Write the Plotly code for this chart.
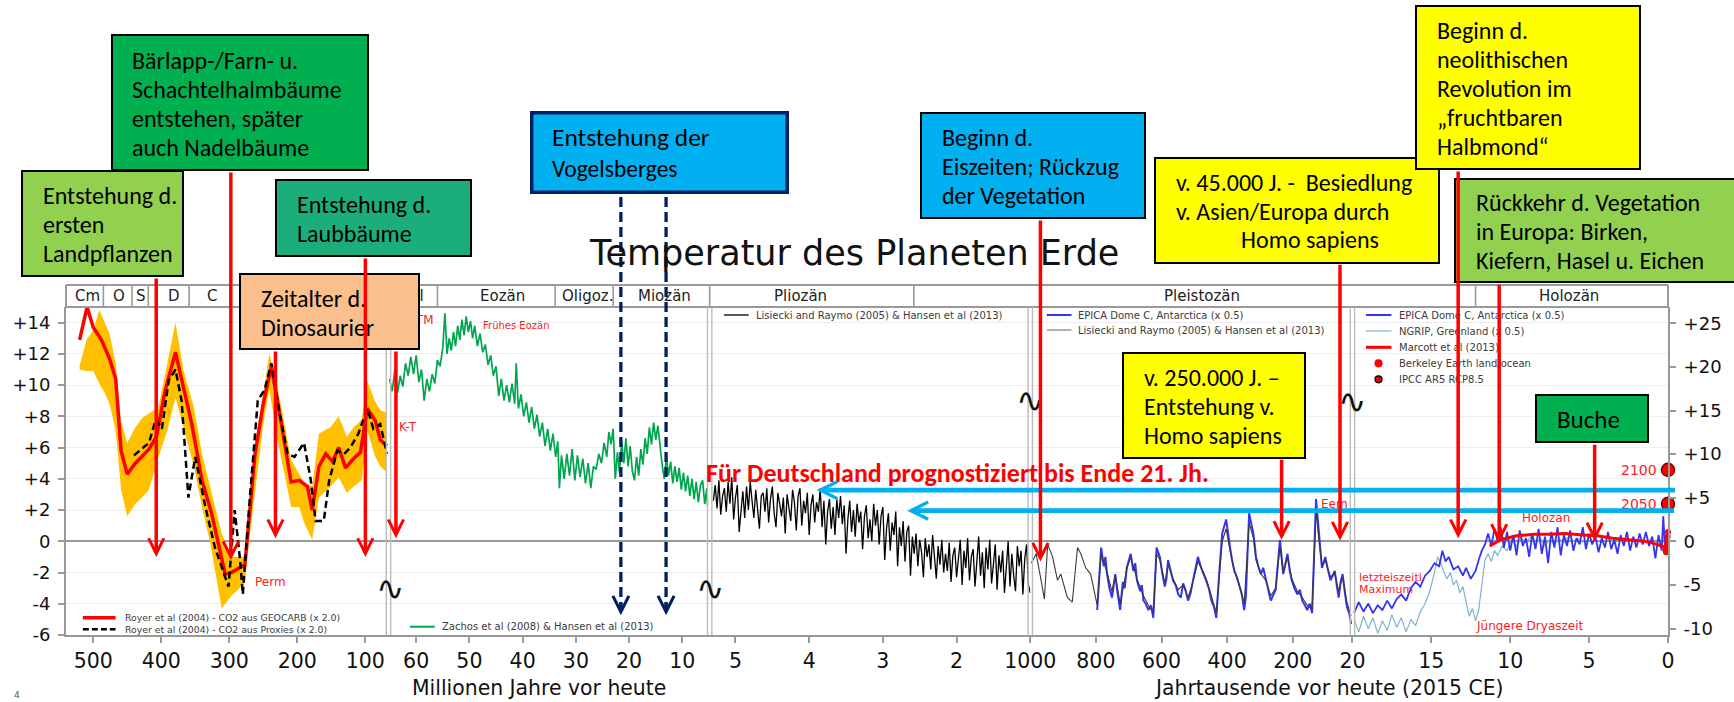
import plotly.graph_objects as go

# ---------------------------------------------------------------- data
# Segment 1: Millionen Jahre (Royer et al 2004)
royer_t = [520, 509, 500, 488, 476, 467, 459, 450, 438, 418, 407, 394, 379, 367, 355, 340, 326, 306, 297, 277,
           262, 250, 238, 224, 209, 197, 185, 178, 168, 158, 148, 139, 129, 117, 107, 97, 85, 78, 68]
royer_y = [12.9, 15.0, 13.7, 12.9, 11.7, 10.4, 5.8, 4.3, 5.0, 5.9, 6.7, 9.7, 12.1, 9.7, 7.5, 3.9, 1.8, -2.1, -2.0, -1.5,
           5.6, 8.8, 11.2, 7.7, 3.8, 3.9, 3.5, 2.0, 4.8, 5.6, 5.1, 6.0, 4.7, 5.3, 5.7, 8.5, 7.7, 6.5, 6.1]
band_t = [520, 510, 500, 491, 483, 476, 467, 459, 450, 438, 428, 418, 404, 391, 379, 367, 352, 340, 328, 311, 297,
          285, 277, 268, 259, 250, 241, 229, 209, 197, 190, 178, 168, 151, 139, 127, 117, 105, 97, 86, 78, 68]
band_hi = [11.2, 12.9, 13.5, 14.8, 14.0, 13.3, 11.4, 7.7, 6.3, 7.3, 7.9, 8.2, 8.6, 11.4, 14.0, 10.9, 8.6, 5.6, 3.5, 0.5, -1.0,
           -1.0, -1.0, 3.0, 7.0, 9.5, 12.0, 9.9, 5.2, 4.3, 3.8, 3.5, 6.9, 7.3, 8.0, 6.7, 7.3, 7.8, 10.3, 9.0, 8.4, 8.2]
band_lo = [11.0, 10.9, 10.9, 10.1, 9.5, 8.8, 7.1, 3.3, 1.6, 2.4, 2.8, 3.3, 5.4, 7.1, 9.2, 7.3, 4.8, 2.2, -0.1, -4.3, -3.5,
           -3.0, -2.6, 1.0, 4.2, 7.5, 9.7, 6.5, 2.2, 2.2, 1.2, 0.1, 2.8, 3.5, 4.1, 3.1, 3.5, 3.9, 7.1, 5.5, 4.8, 4.4]
prox_t = [440, 418, 408, 399, 389, 379, 370, 360, 350, 335, 321, 301, 292, 284, 280, 270, 258, 248, 238, 226, 214,
          204, 190, 180, 173, 161, 153, 141, 131, 122, 110, 97, 88, 78, 68]
prox_y = [5.5, 6.3, 7.8, 7.2, 10.3, 11.0, 9.0, 2.8, 5.4, 2.2, -0.4, -2.9, 2.0, -1.2, -3.4, 2.6, 9.0, 9.7, 11.4, 8.2, 5.6,
          5.4, 6.3, 3.9, 1.3, 1.3, 3.9, 5.8, 5.6, 6.0, 6.9, 8.5, 7.2, 7.5, 5.6]

# Segment 2: Millionen Jahre (Zachos et al 2008)
zachos_t = [65.0, 64.5, 64.0, 63.5, 63.0, 62.5, 62.0, 61.5, 61.0, 60.5,
            60.0, 59.5, 59.0, 58.5, 58.0, 57.5, 57.0, 56.5, 56.0, 55.5,
            55.0, 54.6, 54.2, 53.8, 53.4, 53.0, 52.6, 52.2, 51.8, 51.4,
            51.0, 50.6, 50.2, 49.8, 49.4, 49.0, 48.5, 48.0, 47.5, 47.0,
            46.5, 46.0, 45.5, 45.0, 44.5, 44.0, 43.5, 43.0, 42.5, 42.0,
            41.5, 41.2, 40.8, 40.3, 39.8, 39.3, 38.8, 38.3, 37.8, 37.3,
            36.8, 36.3, 35.8, 35.3, 34.8, 34.3, 33.8, 33.4, 33.1, 32.7,
            32.2, 31.7, 31.2, 30.7, 30.2, 29.7, 29.2, 28.7, 28.2, 27.7,
            27.2, 26.7, 26.2, 25.7, 25.2, 24.7, 24.2, 23.8, 23.4, 23.0,
            22.6, 22.2, 21.8, 21.4, 21.0, 20.6, 20.2, 19.8, 19.4, 19.0,
            18.6, 18.2, 17.8, 17.4, 17.0, 16.6, 16.2, 15.8, 15.4, 15.0,
            14.6, 14.2, 13.8, 13.4, 13.0, 12.6, 12.2, 11.8, 11.4, 11.0,
            10.6, 10.2, 9.8, 9.4, 9.0, 8.6, 8.2, 7.8, 7.4, 7.0,
            6.6, 6.2, 5.8, 5.4, 5.3]
zachos_y = [10.4, 9.6, 11.0, 9.5, 10.6, 9.9, 11.4, 10.6, 11.8, 10.7,
            11.9, 10.2, 11.0, 9.0, 10.4, 9.6, 10.7, 10.1, 11.6, 11.2,
            12.4, 14.6, 12.0, 13.0, 12.2, 13.4, 12.5, 13.8, 12.9, 14.2,
            13.2, 14.4, 13.4, 14.1, 13.0, 13.8, 12.5, 13.3, 12.1, 12.6,
            11.3, 11.9, 10.6, 11.2, 9.3, 10.4, 9.0, 10.0, 8.9, 10.1,
            8.8, 11.4, 8.5, 9.4, 8.0, 8.9, 7.6, 8.6, 7.2, 8.1,
            6.7, 7.6, 6.1, 7.2, 5.8, 6.9, 5.4, 6.4, 3.4, 5.5,
            4.0, 5.6, 4.2, 5.9, 3.9, 5.5, 4.1, 5.3, 3.7, 5.0,
            3.4, 4.8, 4.6, 5.6, 5.0, 6.3, 5.4, 7.0, 6.2, 7.2,
            4.0, 5.7, 4.4, 6.4, 5.0, 6.6, 4.8, 6.1, 4.5, 3.9,
            5.4, 4.2, 5.9, 4.9, 6.6, 5.6, 7.3, 6.2, 7.6, 6.5,
            7.4, 6.0, 4.9, 4.0, 5.4, 4.2, 5.1, 3.7, 4.8, 3.8,
            4.7, 3.3, 4.4, 3.2, 4.2, 2.9, 4.0, 2.7, 3.8, 2.5,
            3.6, 3.9, 2.4, 3.4, 2.3]

# Segment 3: Millionen Jahre (Lisiecki & Raymo 2005)
lr3_t = [5.300, 5.275, 5.250, 5.225, 5.200, 5.175, 5.150, 5.125, 5.100, 5.075,
         5.050, 5.025, 5.000, 4.975, 4.950, 4.925, 4.900, 4.875, 4.850, 4.825,
         4.800, 4.775, 4.750, 4.725, 4.700, 4.675, 4.650, 4.625, 4.600, 4.575,
         4.550, 4.525, 4.500, 4.475, 4.450, 4.425, 4.400, 4.375, 4.350, 4.325,
         4.300, 4.275, 4.250, 4.225, 4.200, 4.175, 4.150, 4.125, 4.100, 4.075,
         4.050, 4.025, 4.000, 3.975, 3.950, 3.925, 3.900, 3.875, 3.850, 3.825,
         3.800, 3.775, 3.750, 3.725, 3.700, 3.675, 3.650, 3.625, 3.600, 3.575,
         3.550, 3.525, 3.500, 3.475, 3.450, 3.425, 3.400, 3.375, 3.350, 3.325,
         3.300, 3.275, 3.250, 3.225, 3.200, 3.175, 3.150, 3.125, 3.100, 3.075,
         3.050, 3.025, 3.000, 2.975, 2.950, 2.925, 2.900, 2.875, 2.850, 2.825,
         2.800, 2.775, 2.750, 2.725, 2.700, 2.675, 2.650, 2.625, 2.600, 2.575,
         2.550, 2.525, 2.500, 2.475, 2.450, 2.425, 2.400, 2.375, 2.350, 2.325,
         2.300, 2.275, 2.250, 2.225, 2.200, 2.175, 2.150, 2.125, 2.100, 2.075,
         2.050, 2.025, 2.000, 1.975, 1.950, 1.925, 1.900, 1.875, 1.850, 1.825,
         1.800, 1.775, 1.750, 1.725, 1.700, 1.675, 1.650, 1.625, 1.600, 1.575,
         1.550, 1.525, 1.500, 1.475, 1.450, 1.425, 1.400, 1.375, 1.350, 1.325,
         1.300, 1.275, 1.250, 1.225, 1.200, 1.175, 1.150, 1.125, 1.100, 1.075,
         1.050, 1.025, 1.000]
lr3_y = [2.6, 3.6, 2.1, 3.9, 1.7, 2.9, 3.4, 1.9, 3.8, 2.4,
         4.1, 1.4, 2.8, 3.6, 0.6, 2.2, 3.2, 1.5, 3.5, 2.0,
         3.8, 2.6, 1.5, 3.3, 2.2, 0.8, 2.9, 3.1, 1.9, 3.4,
         1.2, 2.7, 3.5, 1.8, 0.9, 3.1, 2.4, 1.6, 2.8, 0.5,
         3.0, 2.2, 1.3, 3.3, 2.5, 0.7, 2.9, 3.4, 1.0, 2.6,
         1.8, 3.1, 0.4, 2.3, 3.0, 1.2, 2.5, 1.9, 3.4, 0.9,
         2.6, -0.2, 1.9, 2.7, 0.8, 2.2, 0.4, 2.7, 1.5, 2.9,
         1.1, 2.3, -0.8, 1.4, 2.6, 0.6, 2.0, 0.3, 2.4, 1.2,
         1.9, -0.5, 1.6, 2.3, 0.2, 1.4, 0.0, 2.4, 1.0, 2.0,
         -0.2, 1.6, 2.2, -1.2, 0.8, 1.8, -0.6, 1.2, 0.4, 1.9,
         -1.6, 0.9, -0.3, 1.3, -1.3, 0.6, 1.0, -2.2, 0.3, -0.8,
         0.5, -1.6, 0.1, -0.7, -2.3, 0.2, -1.0, -0.2, -1.8, 0.4,
         -1.2, -2.4, -0.3, -1.5, 0.1, -2.0, -0.8, -1.9, -0.1, -2.6,
         -0.9, -0.4, -2.3, -1.1, 0.1, -2.8, -0.6, -1.7, 0.2, -2.5,
         -1.0, -0.5, -2.9, -1.3, 0.3, -2.2, -0.7, -3.0, -0.4, -1.8,
         0.1, -2.7, -1.2, -0.2, -3.1, -0.9, -2.0, -0.6, -3.3, -1.4,
         0.0, -2.9, -0.8, -2.2, -3.2, -0.3, -1.6, -0.6, -3.4, -1.1,
         -0.2, -2.8, -3.3]

# Segment 4: Jahrtausende (EPICA x0.5 ; Lisiecki & Raymo)
epica4 = [(796, -4.4), (784, -0.4), (776, -1.6), (771, -1.0), (766, -2.1), (759, -3.0), (751, -3.6), (746, -2.8),
          (741, -2.1), (734, -3.3), (726, -4.4), (718, -2.6), (712, -3.0), (706, -1.7), (694, -0.8), (686, -1.9),
          (680, -1.4), (675, -2.5), (665, -3.2), (660, -2.8), (655, -3.8), (648, -4.0), (640, -4.4), (632, -4.1),
          (625, -4.9), (615, -0.4), (605, -1.0), (598, -2.0), (590, -2.9), (585, -2.4), (580, -1.2), (565, -2.5),
          (557, -2.8), (549, -3.4), (541, -3.6), (534, -2.7), (527, -3.1), (519, -3.8), (511, -3.3), (504, -2.5),
          (496, -1.8), (489, -1.0), (479, -1.7), (471, -2.1), (464, -2.5), (456, -3.0), (448, -3.8), (440, -4.2),
          (433, -4.9), (424, -2.0), (415, 0.5), (403, 1.4), (397, 0.3), (391, -0.4), (385, -1.2), (378, -1.9),
          (370, -2.3), (363, -2.9), (355, -3.4), (348, -4.4), (343, -3.6), (333, 1.8), (320, 0.5), (316, -0.2),
          (312, -1.0), (305, -1.6), (297, -2.1), (290, -1.7), (282, -2.5), (274, -3.2), (267, -3.8), (252, -3.1),
          (246, -1.6), (239, 0.1), (229, -2.1), (222, -1.5), (216, -0.8), (209, -1.9), (203, -2.5), (195, -3.0),
          (186, -3.4), (178, -3.1), (171, -3.8), (163, -4.1), (156, -4.4), (148, -4.0), (141, -4.6), (129, 2.7),
          (121, 0.5), (116, -0.6), (111, -1.7), (106, -1.4), (101, -1.0), (93, -1.8), (85, -2.5), (78, -2.2),
          (72, -1.9), (66, -2.8), (60, -3.6), (54, -2.6), (48, -2.1), (41, -3.3), (35, -4.2), (28, -4.6), (22, -5.3)]
epica4_t = [p[0] for p in epica4]
epica4_y = [p[1] for p in epica4]
lr4_t = [997, 982, 967, 957, 947, 932, 917, 907, 887, 872, 856, 846, 831, 816, 796, 784, 766, 751, 741, 726,
         706, 694, 675, 655, 640, 625, 615, 605, 590, 580, 565, 549, 534, 519, 504, 489, 479, 464, 448, 433,
         415, 403, 391, 378, 363, 348, 333, 320, 312, 297, 282, 267, 252, 239, 229, 216, 203, 186, 171, 156,
         141, 129, 121, 111, 101, 85, 72, 60, 48, 35, 22]
lr4_y = [-1.4, -0.8, -2.5, -3.7, -0.2, -1.0, -2.5, -2.1, -3.6, -3.9, -0.4, -0.8, -1.7, -2.1, -4.1, -0.8, -2.0, -3.2, -2.2, -4.0,
         -1.8, -1.0, -2.4, -3.5, -4.1, -4.6, -0.8, -1.2, -2.7, -1.5, -2.4, -3.1, -2.8, -3.6, -2.6, -1.3, -1.7, -2.4, -3.5, -4.6,
         0.0, 0.8, -0.6, -1.9, -2.8, -4.0, 1.2, 0.2, -1.2, -2.1, -2.5, -3.5, -3.0, -0.3, -2.0, -1.0, -2.4, -3.2, -3.6, -4.1,
         -4.3, 2.0, 0.2, -1.5, -1.2, -2.3, -2.0, -3.2, -2.3, -3.9, -4.8]

# Segment 5: Jahrtausende (EPICA, NGRIP, Marcott, Berkeley, IPCC)
epica5_t = [19.9, 19.6, 19.3, 19.0, 18.7, 18.4, 18.1, 17.8, 17.5, 17.2, 16.9, 16.6, 16.3, 16.0, 15.7, 15.4, 15.1, 14.8,
            14.5, 14.3, 14.1, 13.9, 13.6, 13.3, 13.0, 12.8, 12.5, 12.2, 12.0, 11.8, 11.6, 11.4, 11.2, 11.0, 10.8, 10.6,
            10.4, 10.2, 10.0, 9.8, 9.6, 9.4, 9.2, 9.0, 8.8, 8.6, 8.4, 8.2, 8.0, 7.8, 7.6, 7.4, 7.2, 7.0, 6.8, 6.6,
            6.4, 6.2, 6.0, 5.8, 5.6, 5.4, 5.2, 5.0, 4.8, 4.6, 4.4, 4.2, 4.0, 3.8, 3.6, 3.4, 3.2, 3.0, 2.8, 2.6,
            2.4, 2.2, 2.0, 1.8, 1.6, 1.4, 1.2, 1.0, 0.8, 0.6, 0.4, 0.3, 0.2, 0.1]
epica5_y = [-4.6, -3.9, -4.5, -4.0, -4.6, -4.1, -4.4, -3.8, -4.3, -3.7, -3.4, -3.8, -3.0, -2.6, -2.9, -2.2, -1.9, -1.4,
            -1.6, -0.6, -1.3, -1.0, -1.8, -1.6, -2.2, -1.7, -2.4, -1.9, -1.2, -0.6, -0.2, 0.5, -0.3, 0.8, 0.0, 0.9,
            -0.4, 0.6, -0.6, 0.4, -0.9, 0.7, -0.3, 0.2, -1.0, 0.5, -0.5, 0.8, -0.8, 0.3, -1.4, 0.6, -0.4, 0.9, -0.9, 0.4,
            -0.3, 0.7, -0.6, 0.2, -0.2, 0.9, -0.5, 0.5, -0.2, 0.3, -0.7, 0.2, -0.4, 0.6, -0.5, 0.1, -0.8, 0.4, -0.3, 0.6,
            -0.6, 0.3, -0.4, 0.5, -0.2, 0.6, -0.3, 0.3, -1.1, 0.4, -0.6, 1.6, -0.3, 0.3]
ngrip_t = [19.9, 19.6, 19.3, 19.0, 18.7, 18.4, 18.1, 17.8, 17.5, 17.2, 16.9, 16.6, 16.3, 16.0, 15.7, 15.4, 15.1, 14.8,
           14.6, 14.4, 14.2, 14.0, 13.8, 13.6, 13.4, 13.2, 13.0, 12.8, 12.6, 12.4, 12.2, 12.0, 11.8, 11.6, 11.4, 11.2,
           11.0, 10.8, 10.5, 10.2, 9.9, 9.6, 9.3, 9.0, 8.7, 8.4, 8.1, 7.8, 7.5, 7.2, 6.9, 6.6, 6.3, 6.0, 5.7, 5.4]
ngrip_y = [-5.0, -5.8, -4.8, -5.6, -4.9, -5.9, -5.1, -5.7, -4.7, -5.5, -4.9, -5.8, -5.0, -5.4, -4.5, -4.0, -3.2, -2.0,
           -1.0, -1.4, -2.0, -2.4, -2.0, -2.8, -2.5, -3.3, -2.9, -3.9, -4.8, -4.3, -5.1, -4.4, -2.8, -1.2, -0.8, -1.3,
           -0.6, -0.9, -0.3, -0.6, 0.1, -0.3, 0.2, -0.1, 0.3, -0.2, 0.2, -0.3, 0.1, -0.2, 0.2, -0.1, 0.3, 0.0, 0.2, -0.1]
marcott_t = [11.3, 10.6, 9.6, 8.5, 7.5, 6.5, 5.4, 4.5, 3.5, 2.5, 1.5, 1.0, 0.5, 0.3, 0.15]
marcott_y = [-0.3, 0.1, 0.35, 0.45, 0.45, 0.5, 0.4, 0.35, 0.2, 0.1, 0.0, -0.1, -0.25, -0.35, -0.3]
berkeley_t = [0.16, 0.14, 0.12, 0.10, 0.08, 0.06, 0.04, 0.02, 0.0]
berkeley_y = [-0.6, -0.5, -0.7, -0.4, -0.5, -0.2, 0.0, 0.3, 0.6]
ipcc_t = [0.0, 0.0]                # 2050, 2100 drawn at the right edge
ipcc_y = [4.3, 8.2]                # right axis units
ipcc_lbl = ["2050", "2100"]

# axis ticks / labels
seg_ranges = [[540, 65.8], [65.2, 4.87], [5.35, 1.0], [1000, 18], [20, 0]]
seg_ticks = [[500, 400, 300, 200, 100], [60, 50, 40, 30, 20, 10], [5, 4, 3, 2], [1000, 800, 600, 400, 200], [20, 15, 10, 5, 0]]
yl_ticks = [-6, -4, -2, 0, 2, 4, 6, 8, 10, 12, 14]
yr_ticks = [-10, -5, 0, 5, 10, 15, 20, 25]

# geological epochs (header)
header_sep = [(0, 485), (0, 443), (0, 419), (0, 359), (0, 299), (0, 252), (0, 201), (0, 145),
              (1, 56), (1, 33.9), (1, 23), (2, 2.58), (4, 12.2)]
header_lbl = [(0, "Cm", 509), (0, "O", 462), (0, "S", 429), (0, "D", 381), (0, "C", 325),
              (1, "Pal", 60.6), (1, "Eozän", 43.8), (1, "Oligoz.", 27.9), (1, "Miozän", 13.4),
              (2, "Pliozän", 4.12), (3, "Pleistozän", 476), (4, "Holozän", 6.3)]

# events pointed at by the red arrows: (segment, time, arrow tip temperature, box)
red_arrows = [(0, 407.3, -1.0, "land"), (0, 297.6, -1.2, "baer"), (0, 232.0, 0.2, "dino"),
              (0, 99.8, -1.0, "laub"), (1, 63.8, 0.2, "dino"), (3, 969, -1.3, "eis"),
              (3, 234, 0.1, "b250"), (3, 56, 0.05, "b45"), (4, 13.3, 0.2, "neo"),
              (4, 10.7, -0.1, "rueck"), (4, 4.65, 0.0, "buche")]
vogel_t = [21.55, 13.06]            # Myr (dashed arrows)
de_t = [3.90, 2.67]                 # Myr, Pliocene analogues
de_y = [3.28, 1.96]

# ---------------------------------------------------------------- geometry helpers
W, H = 1734, 702
PL, PR, PT, PB = 63, 1679, 307, 635
SEG_PX = [63, 388.3, 712.3, 1035.7, 1360.7, 1679]
YL = [-6, 15]
YR = [-10.74, 26.87]


def fx(px):
    return (px - PL) / (PR - PL)


def fy(py):
    return (PB - py) / (PB - PT)


def ypx(v):
    return PB - (v - YL[0]) / (YL[1] - YL[0]) * (PB - PT)


def xpx(seg, v):
    r0, r1 = seg_ranges[seg]
    a, b = SEG_PX[seg], SEG_PX[seg + 1]
    return a + (v - r0) / (r1 - r0) * (b - a)


def xn(seg):
    return 'x' if seg == 0 else 'x%d' % (seg + 1)


DV = "DejaVu Sans, Verdana, sans-serif"
BOXF = "Carlito, Lato, Calibri, sans-serif"

# ---------------------------------------------------------------- traces
fig = go.Figure()
fig.add_trace(go.Scatter(x=band_t + band_t[::-1], y=band_hi + band_lo[::-1], xaxis='x', yaxis='y',
                         fill='toself', fillcolor='#FFC000', line=dict(width=0), mode='lines', hoverinfo='skip'))
fig.add_trace(go.Scatter(x=royer_t, y=royer_y, xaxis='x', yaxis='y', mode='lines',
                         line=dict(color='#FF0000', width=3.5)))
fig.add_trace(go.Scatter(x=prox_t, y=prox_y, xaxis='x', yaxis='y', mode='lines',
                         line=dict(color='#000000', width=2.5, dash='7px,4px')))
fig.add_trace(go.Scatter(x=zachos_t, y=zachos_y, xaxis='x2', yaxis='y', mode='lines',
                         line=dict(color='#00A54F', width=1.7)))
fig.add_trace(go.Scatter(x=lr3_t, y=lr3_y, xaxis='x3', yaxis='y', mode='lines',
                         line=dict(color='#000000', width=1.3)))
fig.add_trace(go.Scatter(x=epica4_t, y=epica4_y, xaxis='x4', yaxis='y', mode='lines',
                         line=dict(color='#3535F0', width=2)))
fig.add_trace(go.Scatter(x=lr4_t, y=lr4_y, xaxis='x4', yaxis='y', mode='lines',
                         line=dict(color='#3A3A3A', width=1.1)))
fig.add_trace(go.Scatter(x=ngrip_t, y=ngrip_y, xaxis='x5', yaxis='y', mode='lines',
                         line=dict(color='#7DB5C8', width=1.2)))
fig.add_trace(go.Scatter(x=epica5_t, y=epica5_y, xaxis='x5', yaxis='y', mode='lines',
                         line=dict(color='#3535F0', width=1.8)))
fig.add_trace(go.Scatter(x=marcott_t, y=marcott_y, xaxis='x5', yaxis='y', mode='lines',
                         line=dict(color='#FF0000', width=3)))
fig.add_trace(go.Scatter(x=berkeley_t, y=berkeley_y, xaxis='x5', yaxis='y', mode='markers',
                         marker=dict(color='#FF0000', size=6), cliponaxis=False))
fig.add_trace(go.Scatter(x=ipcc_t, y=ipcc_y, xaxis='x5', yaxis='y2', mode='markers', cliponaxis=False,
                         marker=dict(color='#FF0000', size=13, line=dict(color='#7A0000', width=1.5))))

# ---------------------------------------------------------------- axes
layout = dict(width=W, height=H, autosize=False, margin=dict(l=PL, r=W - PR, t=PT, b=H - PB, pad=0),
              paper_bgcolor='white', plot_bgcolor='white', showlegend=False)
for i in range(5):
    key = 'xaxis' if i == 0 else 'xaxis%d' % (i + 1)
    layout[key] = dict(domain=[fx(SEG_PX[i]), fx(SEG_PX[i + 1])], range=seg_ranges[i], anchor='y',
                       tickmode='array', tickvals=seg_ticks[i], ticktext=[str(t) for t in seg_ticks[i]],
                       ticks='outside', ticklen=6, tickcolor='#999999', tickwidth=1.5,
                       showline=True, linecolor='#999999', linewidth=2, showgrid=False, zeroline=False,
                       tickfont=dict(family=DV, size=20.5, color='#111111'), ticklabelstandoff=0)
layout['yaxis'] = dict(domain=[0, 1], range=YL, anchor='x', tickmode='array', tickvals=yl_ticks,
                       ticktext=[('+%d' % v if v > 0 else str(v)) for v in yl_ticks],
                       ticks='outside', ticklen=6, tickcolor='#999999', tickwidth=1.5,
                       showline=True, linecolor='#999999', linewidth=2,
                       showgrid=True, gridcolor='#EEEEEE', gridwidth=1,
                       zeroline=True, zerolinecolor='#999999', zerolinewidth=1.6,
                       tickfont=dict(family=DV, size=18, color='#111111'), ticklabelstandoff=4)
layout['yaxis2'] = dict(range=YR, overlaying='y', side='right', anchor='x5', tickmode='array',
                        tickvals=yr_ticks, ticktext=[('+%d' % v if v > 0 else str(v)) for v in yr_ticks],
                        ticks='outside', ticklen=6, tickcolor='#999999', tickwidth=1.5,
                        showline=True, linecolor='#999999', linewidth=2, showgrid=False, zeroline=False,
                        tickfont=dict(family=DV, size=18, color='#111111'), ticklabelstandoff=4)
fig.update_layout(**layout)

# ---------------------------------------------------------------- shapes
shapes = []
HT = fy(285)
GRAY = '#999999'
shapes.append(dict(type='line', xref='paper', yref='paper', x0=0, x1=1, y0=HT, y1=HT, line=dict(color=GRAY, width=2)))
shapes.append(dict(type='line', xref='paper', yref='paper', x0=0, x1=1, y0=1, y1=1, line=dict(color=GRAY, width=2)))
shapes.append(dict(type='line', xref='paper', yref='paper', x0=0, x1=0, y0=1, y1=HT, line=dict(color=GRAY, width=2)))
shapes.append(dict(type='line', xref='paper', yref='paper', x0=1, x1=1, y0=1, y1=HT, line=dict(color=GRAY, width=2)))
for seg, v in header_sep:
    shapes.append(dict(type='line', xref=xn(seg), yref='paper', x0=v, x1=v, y0=1, y1=HT,
                       line=dict(color=GRAY, width=1.6)))
for b in SEG_PX[1:3]:
    shapes.append(dict(type='line', xref='paper', yref='paper', x0=fx(b), x1=fx(b), y0=1, y1=HT,
                       line=dict(color=GRAY, width=1.6)))
for b in SEG_PX[1:5]:
    for d in (-2.2, 2.2):
        shapes.append(dict(type='line', xref='paper', yref='paper', x0=fx(b + d), x1=fx(b + d), y0=0, y1=1,
                           line=dict(color='#BBBBBB', width=1.4)))


def leg_line(x0, x1, y, color, width, dash='solid'):
    shapes.append(dict(type='line', xref='paper', yref='paper', x0=fx(x0), x1=fx(x1), y0=fy(y), y1=fy(y),
                       line=dict(color=color, width=width, dash=dash)))


def leg_dot(x, y, color, lc):
    shapes.append(dict(type='circle', xref='paper', yref='paper', xsizemode='pixel', ysizemode='pixel',
                       xanchor=fx(x), yanchor=fy(y), x0=-3.5, x1=3.5, y0=-3.5, y1=3.5,
                       fillcolor=color, line=dict(color=lc, width=1.2)))


leg_line(80, 113, 617.7, '#FF0000', 3.5)
leg_line(80, 113, 629.3, '#000000', 2.5, '6px,3px')
leg_line(410, 435, 626.7, '#00A54F', 2)
leg_line(726.7, 751.7, 315, '#222222', 1.5)
leg_line(1052.3, 1077.3, 315, '#3535F0', 2)
leg_line(1052.3, 1077.3, 330, '#999999', 1.5)
leg_line(1374.3, 1400, 315, '#3535F0', 2)
leg_line(1374.3, 1400, 331, '#9CC5D3', 1.5)
leg_line(1374.3, 1400, 347.3, '#FF0000', 3)
leg_dot(1387, 363.3, '#FF0000', '#FF0000')
leg_dot(1387, 379.3, '#E00000', '#000000')

for t in vogel_t:
    shapes.append(dict(type='line', xref='x2', yref='paper', x0=t, x1=t, y0=fy(197), y1=fy(609),
                       line=dict(color='#002060', width=3.3, dash='10px,5px')))
fig.update_layout(shapes=shapes)

# ---------------------------------------------------------------- annotations
ann = []


def txt(x, y, s, size=10, color='#3A3A3A', family=DV, xa='left', ya='middle', xref='paper', yref='paper', **kw):
    d = dict(x=x, y=y, xref=xref, yref=yref, text=s, showarrow=False, xanchor=xa, yanchor=ya,
             font=dict(family=family, size=size, color=color))
    d.update(kw)
    ann.append(d)


for seg, name, v in header_lbl:
    txt(v, fy(296), name, size=15, color='#222222', xa='center', xref=xn(seg))

txt(fx(120), fy(617.7), "Royer et al (2004) - CO2 aus GEOCARB (x 2.0)", size=9.3)
txt(fx(120), fy(629.3), "Royer et al (2004) - CO2 aus Proxies (x 2.0)", size=9.3)
txt(fx(440), fy(626.7), "Zachos et al (2008) &amp; Hansen et al (2013)", size=10)
txt(fx(756.7), fy(315), "Lisiecki and Raymo (2005) &amp; Hansen et al (2013)", size=10)
txt(fx(1082.3), fy(315), "EPICA Dome C, Antarctica (x 0.5)", size=10)
txt(fx(1082.3), fy(330), "Lisiecki and Raymo (2005) &amp; Hansen et al (2013)", size=10)
for s, yy in [("EPICA Dome C, Antarctica (x 0.5)", 315), ("NGRIP, Greenland (x 0.5)", 331),
              ("Marcott et al (2013)", 347.3), ("Berkeley Earth land/ocean", 363.3), ("IPCC AR5 RCP8.5", 379.3)]:
    txt(fx(1405.7), fy(yy), s, size=10)

RED = '#FF2020'
txt(265, -2.6, "Perm", size=12, color=RED, xref='x', yref='y')
txt(63.6, 7.3, "K-T", size=12, color=RED, xref='x2', yref='y')
txt(56.3, 14.2, "PETM", size=12, color=RED, xref='x2', yref='y', xa='right')
txt(47.8, 13.8, "Frühes Eozän", size=10, color=RED, xref='x2', yref='y')
txt(119, 2.4, "Eem", size=12, color=RED, xref='x4', yref='y')
txt(19.73, -2.29, "letzteiszeitl.", size=11, color=RED, xref='x5', yref='y')
txt(19.73, -3.1, "Maximum", size=11, color=RED, xref='x5', yref='y')
txt(9.41, 1.52, "Holozän", size=12, color=RED, xref='x5', yref='y')
txt(12.3, -5.4, "Jüngere Dryaszeit", size=12, color=RED, xref='x5', yref='y')
for t, v, lbl in zip(ipcc_t, ipcc_y, ipcc_lbl):
    txt(t, v, lbl, size=14, color=RED, xref='x5', yref='y2', xa='right', xshift=-9)

for bx, by in [(390, 588), (713, 588), (1036, 400), (1361, 401)]:
    txt(fx(bx), fy(by), "∿", size=34, color='#111111', xa='center')

txt(fx(858), fy(253), "Temperatur des Planeten Erde", size=35, color='#111111', xa='center')
txt(fx(410), fy(688), "Millionen Jahre vor heute", size=20.4, color='#111111')
txt(fx(1158), fy(688), "Jahrtausende vor heute (2015 CE)", size=20.4, color='#111111')
txt(fx(9), fy(695), "4", size=9, color='#555555')
txt(fx(706.7), fy(472.5), "<b>Für Deutschland prognostiziert bis Ende 21. Jh.</b>", size=26, color='#FF0000',
    family=BOXF)

# text boxes: background box + one annotation per text line
NB = '\u00a0'
boxes = {
    "baer": dict(l=108, t=34, r=366, b=171, fill='#00B050',
                 lines=["Bärlapp-/Farn- u.", "Schachtelhalmbäume", "entstehen, später", "auch Nadelbäume"]),
    "land": dict(l=17.7, t=170, r=180.3, b=277, fill='#92D050', lines=["Entstehung d.", "ersten", "Landpflanzen"]),
    "laub": dict(l=273.6, t=179, r=470.5, b=257, fill='#1BAE7A', lines=["Entstehung d.", "Laubbäume"]),
    "dino": dict(l=237.3, t=273, r=418.3, b=350, fill='#F9C08E', lines=["Zeitalter d.", "Dinosaurier"]),
    "vogel": dict(l=530.8, t=110.7, r=789.8, b=194, fill='#00B0F0', bc='#002060', bw=3.5, ls=31,
                  lines=["Entstehung der", "Vogelsberges"], sizes=[25.5, 23.5]),
    "eis": dict(l=924.3, t=111.7, r=1150, b=219, fill='#00B0F0',
                lines=["Beginn d.", "Eiszeiten; Rückzug", "der Vegetation"]),
    "b45": dict(l=1160.6, t=156.7, r=1447, b=263.3, fill='#FFFF00',
                lines=["v. 45.000 J. -" + NB + NB + "Besiedlung", "v. Asien/Europa durch", NB * 12 + "Homo sapiens"]),
    "neo": dict(l=1424.2, t=5, r=1650, b=170, fill='#FFFF00',
                lines=["Beginn d.", "neolithischen", "Revolution im", "„fruchtbaren", "Halbmond“"]),
    "rueck": dict(l=1463, t=178.3, r=1750, b=283.3, fill='#92D050',
                  lines=["Rückkehr d. Vegetation", "in Europa: Birken,", "Kiefern, Hasel u. Eichen"]),
    "b250": dict(l=1128.3, t=351.7, r=1312.3, b=458.3, fill='#FFFF00',
                 lines=["v. 250.000 J. –", "Entstehung v.", "Homo sapiens"]),
    "buche": dict(l=1545, t=394.3, r=1659, b=443.3, fill='#00B050', lines=["Buche"], sizes=[25]),
}
for key, bx in boxes.items():
    bw = bx.get('bw', 2)
    ann.append(dict(xref='paper', yref='paper', x=fx(bx['l']), y=fy(bx['t']), xanchor='left', yanchor='top',
                    text=NB, showarrow=False, width=bx['r'] - bx['l'] - 2 * bw, height=bx['b'] - bx['t'] - 2 * bw,
                    bgcolor=bx['fill'], bordercolor=bx.get('bc', '#000000'), borderwidth=bw, borderpad=0,
                    font=dict(size=6)))
    n = len(bx['lines'])
    cy = (bx['t'] + bx['b']) / 2 + 1
    ls = bx.get('ls', 29)
    sizes = bx.get('sizes', [24] * n)
    for i, line in enumerate(bx['lines']):
        ann.append(dict(xref='paper', yref='paper', x=fx(bx['l'] + 20), y=fy(cy + (i - (n - 1) / 2) * ls),
                        xanchor='left', yanchor='middle', text=line, showarrow=False, align='left',
                        font=dict(family=BOXF, size=sizes[i], color='#000000')))

for t, v in zip(de_t, de_y):
    ann.append(dict(xref='x3', yref='y', x=t, y=v, text='', showarrow=True, axref='pixel', ayref='pixel',
                    ax=PR + 1 - xpx(2, t), ay=0, arrowhead=5, arrowsize=0.72, arrowwidth=4.7,
                    arrowcolor='#00B0F0', standoff=0))
for t in vogel_t:
    ann.append(dict(xref='x2', yref='y', x=t, y=-4.74, text='', showarrow=True, axref='pixel', ayref='pixel',
                    ax=0, ay=-14, arrowhead=5, arrowsize=0.95, arrowwidth=3.3, arrowcolor='#002060', standoff=0))
for seg, t, tip, key in red_arrows:
    ann.append(dict(xref=xn(seg), yref='y', x=t, y=tip, text='', showarrow=True, axref='pixel', ayref='pixel',
                    ax=0, ay=boxes[key]['b'] - ypx(tip), arrowhead=5, arrowsize=0.86, arrowwidth=3.5,
                    arrowcolor='#FF0000', standoff=0))

fig.update_layout(annotations=ann)
fig.write_html("out.html", config={'displayModeBar': False, 'responsive': False},
               post_script="document.body.style.margin='0px';document.body.style.overflow='hidden';")
